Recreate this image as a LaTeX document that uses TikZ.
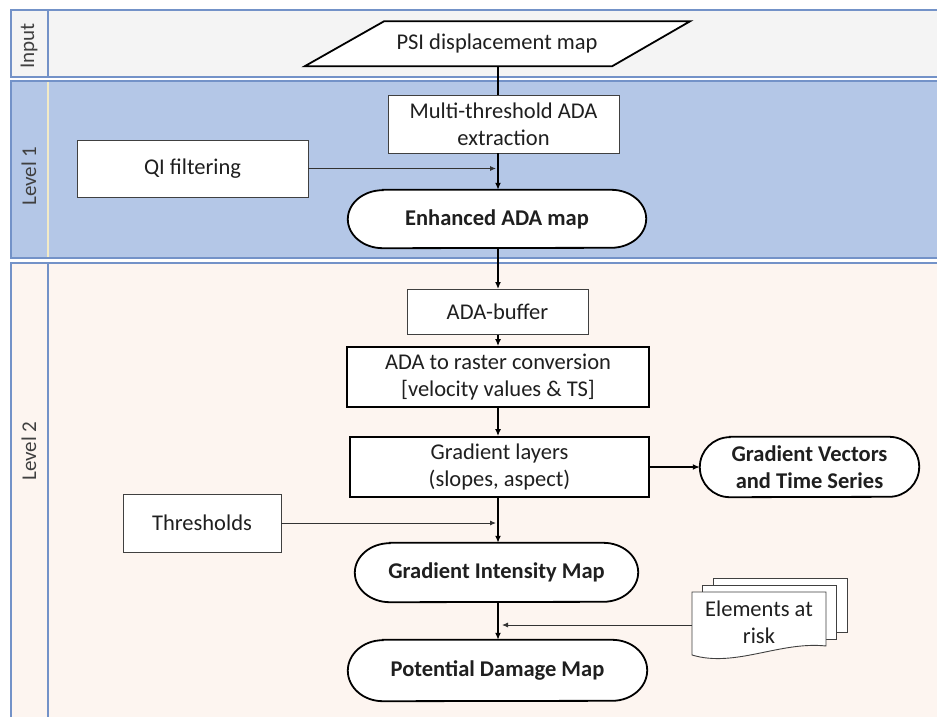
\documentclass[tikz,border=0pt]{standalone}
\usepackage{fontspec}
\setmainfont{Carlito}
\usetikzlibrary{arrows.meta,calc}
\definecolor{lanegray}{HTML}{F4F4F4}
\definecolor{laneblue}{HTML}{B4C7E7}
\definecolor{lanepeach}{HTML}{FDF5F0}
\definecolor{laneedge}{HTML}{7392C8}
\definecolor{txtgray}{HTML}{404040}
\definecolor{cream}{HTML}{F3EBC6}
\pgfdeclarelayer{lanes}
\pgfdeclarelayer{shapes}
\pgfsetlayers{lanes,shapes,main}
\newcommand\stadiumshape[3]{%
  \draw[termline] ($(#1.north west)+(#2pt,0)$) -- ($(#1.north east)+(-#2pt,0)$)
    arc[start angle=90,end angle=-90,x radius=#2pt,y radius=#3pt]
    -- ($(#1.south west)+(#2pt,0)$)
    arc[start angle=270,end angle=90,x radius=#2pt,y radius=#3pt] -- cycle;}
\begin{document}
\begin{tikzpicture}[x=1pt,y=-1pt,
  lane/.style={draw=laneedge, line width=1.2pt},
  lanelabel/.style={rotate=90, font=\fontsize{21}{24}\selectfont, text=txtgray},
  base/.style={font=\fontsize{22.5}{27}\selectfont, align=center, inner sep=0pt, text=black!88},
  thinbox/.style={base, draw=txtgray, fill=white, line width=0.9pt},
  thickbox/.style={base, draw=black, fill=white, line width=1.8pt},
  term/.style={base, font=\bfseries\fontsize{22.5}{27}\selectfont},
  termline/.style={draw=black, fill=white, line width=1.8pt},
  docline/.style={draw=txtgray, fill=white, line width=0.9pt},
  mainflow/.style={draw=black, line width=1.6pt, -{Latex[length=7pt,width=6pt]}},
  sideflow/.style={draw=txtgray!80!black, line width=0.9pt, -{Latex[length=6pt,width=5pt]}},
]
\useasboundingbox (0,0) rectangle (937,717);

% lanes
\begin{pgfonlayer}{lanes}
  \fill[white] (0,0) rectangle (937,717);
  \draw[lane, fill=lanegray] (11,10) rectangle (950,77);
  \draw[lane] (48,10) -- (48,77);
  \draw[lane, fill=laneblue] (11,81) rectangle (950,258);
  \draw[cream, line width=1.2pt] (48,82) -- (48,257);
  \draw[lane, fill=lanepeach] (11,263) rectangle (950,730);
  \draw[lane] (48,263) -- (48,730);
\end{pgfonlayer}
\node[lanelabel] (lblin) at (29,46) {Input};
\node[lanelabel] (lbl1) at (29,176) {Level 1};
\node[lanelabel] (lbl2) at (29,451) {Level 2};

\coordinate (mx) at (498,0);
\coordinate (tapL) at (496,0);
\coordinate (tapR) at (502,0);

% nodes
\node[base, minimum width=307pt, minimum height=45pt] (psi) at (458.5,43.5) {};
\node[base] (psitext) at (497,44) {PSI displacement map};
\node[thinbox, minimum width=231pt, minimum height=58pt] (multi) at (503.5,124) {Multi-threshold ADA\\extraction};
\node[thinbox, minimum width=231pt, minimum height=57pt] (qi) at (192.5,168.5) {QI filtering};
\node[term, minimum width=298pt, minimum height=58pt] (enh) at (497,219) {Enhanced ADA map};
\node[thinbox, minimum width=181pt, minimum height=45pt] (buf) at (497.5,312) {ADA-buffer};
\node[thickbox, minimum width=302pt, minimum height=60pt] (ras) at (498,377) {ADA to raster conversion\\{[velocity values \& TS]}};
\node[thickbox, minimum width=299pt, minimum height=60pt] (grad) at (499.5,467) {Gradient layers\\(slopes, aspect)};
\node[term, minimum width=219pt, minimum height=60pt] (vec) at (809.5,467) {Gradient Vectors\\and Time Series};
\node[thinbox, minimum width=158pt, minimum height=58pt] (thr) at (202,523) {Thresholds};
\node[term, minimum width=283pt, minimum height=59pt] (int) at (496.5,572.5) {Gradient Intensity Map};
\node[term, minimum width=299pt, minimum height=61pt] (dmg) at (497.5,670.5) {Potential Damage Map};
\node[base, minimum width=134pt, minimum height=54pt] (elem) at (759,622) {Elements at\\risk};

% shapes
\begin{pgfonlayer}{shapes}
  \draw[termline] (psi.south west) -- (psi.south east) -- ++(78,-45) -- ++(-306,0) -- cycle;
  \stadiumshape{enh}{35}{29}
  \stadiumshape{vec}{30}{30}
  \stadiumshape{int}{35}{29.5}
  \stadiumshape{dmg}{35}{30.5}
  % multi-document
  \draw[docline] (713,578) rectangle (847,632);
  \draw[docline] (702,585) rectangle (836,639);
  \draw[docline] (692,592) -- (826,592) -- (826,646)
     .. controls (780,641) and (735,668) .. (692,655) -- cycle;
\end{pgfonlayer}

% connectors
\draw[draw=black, line width=1.6pt] (psi.south -| mx) -- (multi.north -| mx);
\draw[mainflow] (multi.south -| mx) -- (enh.north -| mx);
\draw[sideflow] (qi.east) -- (qi.east -| tapL);
\draw[mainflow] (enh.south -| mx) -- (buf.north -| mx);
\draw[mainflow] (buf.south -| mx) -- (ras.north -| mx);
\draw[mainflow] (ras.south -| mx) -- (grad.north -| mx);
\draw[mainflow, line width=1.4pt] (grad.east) -- (vec.west);
\draw[mainflow] (grad.south -| mx) -- (int.north -| mx);
\draw[sideflow] (thr.east) -- (thr.east -| tapL);
\draw[mainflow] (int.south -| mx) -- (dmg.north -| mx);
\draw[sideflow] ([yshift=-3pt]elem.west) -- ([yshift=-3pt]elem.west -| tapR);
\end{tikzpicture}
\end{document}
